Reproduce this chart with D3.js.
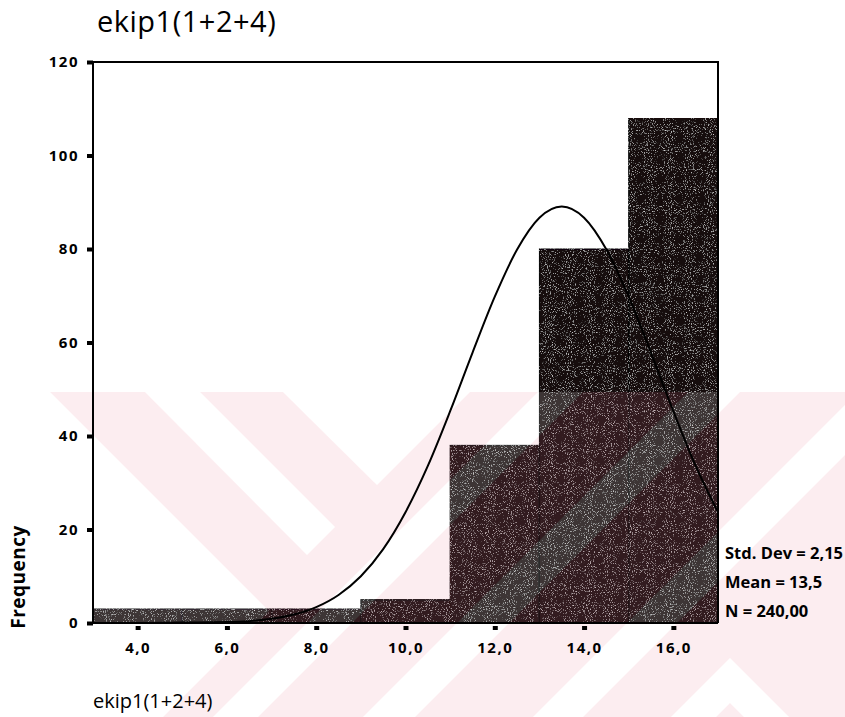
<!DOCTYPE html>
<html>
<head>
<meta charset="utf-8">
<script src="https://cdn.jsdelivr.net/npm/d3@7"></script>
<style>
  body { margin: 0; background: #fff; }
  svg { display: block; font-family: "Open Sans", "Noto Sans", sans-serif; }
</style>
</head>
<body>
<div id="chart"></div>
<script>
// histogram bins (lower edge, width 2) and counts
var binStarts = [3, 5, 7, 9, 11, 13, 15];
var binWidth = 2;
var counts = [3, 3, 3, 5, 38, 80, 108];

// normal curve
var curveX = [3, 4, 5, 6, 6.5, 7, 7.5, 8, 8.5, 9, 9.5, 10, 10.5, 11, 11.5, 12, 12.5, 13, 13.5, 14, 14.5, 15, 15.5, 16, 16.5, 17];
var curveY = [0, 0, 0.1, 0.2, 0.4, 0.9, 1.8, 3.4, 6, 10, 15.8, 23.7, 33.6, 45.3, 57.8, 69.8, 79.9, 86.7, 89.1, 86.7, 79.9, 69.8, 57.8, 45.3, 33.6, 23.7];

var yTicks = [0, 20, 40, 60, 80, 100, 120];
var xTicks = [4, 6, 8, 10, 12, 14, 16];
var statLines = ["Std. Dev = 2,15", "Mean = 13,5", "N = 240,00"];
var title = "ekip1(1+2+4)";

var W = 845, H = 717;
var x = d3.scaleLinear().domain([3, 17]).range([93, 718]);
var y = d3.scaleLinear().domain([0, 120]).range([623, 62]);

var svg = d3.select("#chart").append("svg")
  .attr("width", W)
  .attr("height", H);

var defs = svg.append("defs");

// grainy scan look for the bars
var f = defs.append("filter").attr("id", "grain")
  .attr("x", 0).attr("y", 0).attr("width", "100%").attr("height", "100%");
f.append("feTurbulence").attr("type", "fractalNoise").attr("baseFrequency", 0.95)
  .attr("numOctaves", 2).attr("seed", 4).attr("result", "n");
f.append("feColorMatrix").attr("in", "n").attr("type", "matrix")
  .attr("values", "0 0 0 0 0.7  0 0 0 0 0.7  0 0 0 0 0.7  3 0 0 0 -1.75")
  .attr("result", "dots");
f.append("feComposite").attr("in", "dots").attr("in2", "SourceGraphic")
  .attr("operator", "in").attr("result", "dots2");
var fm = f.append("feMerge");
fm.append("feMergeNode").attr("in", "SourceGraphic");
fm.append("feMergeNode").attr("in", "dots2");

// watermark area and its white gaps
var wmTop = 392, wmLeft = 50;
function band(a, b) { // "/" band between x+y=a and x+y=b
  return [[a - 300, 300], [b - 300, 300], [b - 800, 800], [a - 800, 800]];
}
var gaps = [
  [[145, 392], [200, 392], [335, 527], [307, 555]],
  [[283, 392], [470, 392], [377, 485]],
  [[-50, 292], [269, 611], [80, 800], [-50, 800]],
  band(930, 975),
  band(1080, 1132),
  band(1250, 1300),
  [[730, 658], [872, 800], [827, 800], [730, 703], [633, 800], [588, 800]]
];
var line = d3.line();

defs.append("clipPath").attr("id", "wm-clip")
  .append("rect").attr("x", wmLeft).attr("y", wmTop).attr("width", W - wmLeft).attr("height", H - wmTop);
var mask = defs.append("mask").attr("id", "wm-mask");
mask.append("rect").attr("x", 0).attr("y", 0).attr("width", W).attr("height", H).attr("fill", "#fff");
mask.selectAll("path").data(gaps).enter().append("path")
  .attr("d", function(d) { return line(d) + "Z"; })
  .attr("fill", "#000");

// Bars
svg.append("g")
  .attr("filter", "url(#grain)")
  .selectAll("rect")
  .data(counts)
  .enter()
  .append("rect")
    .attr("x", function(d, i) { return x(binStarts[i]); })
    .attr("y", function(d) { return y(d); })
    .attr("width", function(d, i) { return x(binStarts[i] + binWidth) - x(binStarts[i]); })
    .attr("height", function(d) { return y(0) - y(d); })
    .attr("fill", "#120b0d")
    .attr("stroke", "#050303")
    .attr("stroke-width", 1);

// watermark overlay
var wm = svg.append("g").attr("clip-path", "url(#wm-clip)");
wm.append("rect")
  .attr("x", wmLeft).attr("y", wmTop).attr("width", W - wmLeft).attr("height", H - wmTop)
  .attr("fill", "#ee7d95").attr("opacity", 0.13)
  .attr("mask", "url(#wm-mask)");
wm.selectAll("path.gap").data(gaps).enter().append("path")
  .attr("class", "gap")
  .attr("d", function(d) { return line(d) + "Z"; })
  .attr("fill", "#fff").attr("opacity", 0.17);

// normal curve
svg.append("path")
  .datum(curveX.map(function(v, i) { return [v, curveY[i]]; }))
  .attr("fill", "none")
  .attr("stroke", "#000")
  .attr("stroke-width", 2)
  .attr("d", d3.line()
    .x(function(d) { return x(d[0]); })
    .y(function(d) { return y(d[1]); })
    .curve(d3.curveMonotoneX));

// frame
svg.append("path")
  .attr("d", "M" + x(3) + "," + y(0) + "V" + y(120) + "H" + x(17) + "V" + y(0))
  .attr("fill", "none").attr("stroke", "#000").attr("stroke-width", 2);
svg.append("line")
  .attr("x1", x(3)).attr("x2", x(17)).attr("y1", y(0)).attr("y2", y(0))
  .attr("stroke", "#000").attr("stroke-width", 2);

// Y axis
var yAxis = svg.append("g")
  .attr("transform", "translate(" + x(3) + ",0)")
  .call(d3.axisLeft(y).tickValues(yTicks).tickSize(6).tickPadding(8));
yAxis.select(".domain").remove();
yAxis.selectAll("line").attr("stroke-width", 4);
yAxis.selectAll("text")
  .attr("font-size", "15px")
  .attr("font-weight", 700)
  .attr("letter-spacing", "1.5px")
  .attr("fill", "#000")
  .attr("font-family", "Open Sans, sans-serif");

// X axis
var xAxis = svg.append("g")
  .attr("transform", "translate(0," + (y(0) + 3) + ")")
  .call(d3.axisBottom(x).tickValues(xTicks).tickSize(4).tickPadding(12)
    .tickFormat(function(d) { return d.toFixed(1).replace(".", ","); }));
xAxis.select(".domain").remove();
xAxis.selectAll("line").attr("stroke-width", 5);
xAxis.selectAll("text")
  .attr("font-size", "15px")
  .attr("font-weight", 700)
  .attr("letter-spacing", "1.5px")
  .attr("fill", "#000")
  .attr("font-family", "Open Sans, sans-serif");

// titles
svg.append("text")
  .attr("x", 97).attr("y", 32)
  .attr("font-size", "29px")
  .attr("letter-spacing", "0.5px")
  .text(title);

svg.append("text")
  .attr("x", 93).attr("y", 708)
  .attr("font-size", "20px")
  .text(title);

svg.append("text")
  .attr("transform", "translate(25,577) rotate(-90)")
  .attr("text-anchor", "middle")
  .attr("font-size", "19px")
  .attr("font-weight", 700)
  .attr("letter-spacing", "0.5px")
  .text("Frequency");

// stats box
svg.append("g").selectAll("text")
  .data(statLines)
  .enter()
  .append("text")
    .attr("x", 725)
    .attr("y", function(d, i) { return 559 + i * 29; })
    .attr("font-size", "16.5px")
    .attr("font-weight", 700)
    .text(function(d) { return d; });
</script>
</body>
</html>
